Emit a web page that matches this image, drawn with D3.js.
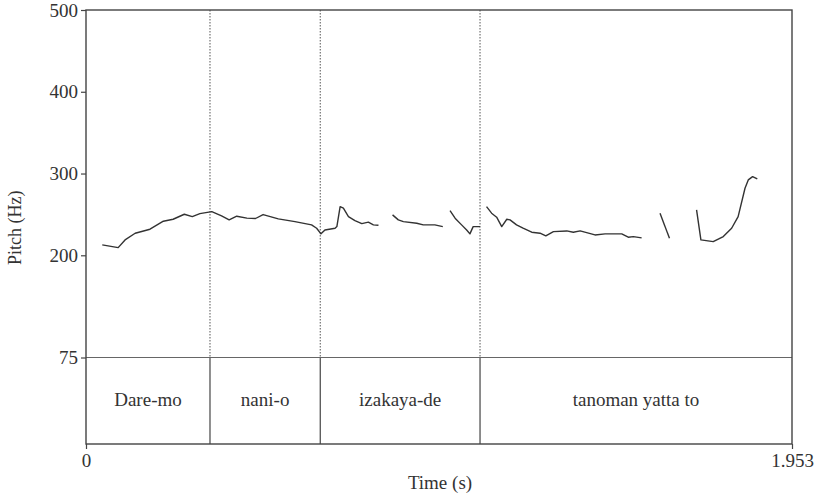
<!DOCTYPE html>
<html>
<head>
<meta charset="utf-8">
<script src="https://cdn.jsdelivr.net/npm/d3@7"></script>
<style>
  body { margin: 0; background: #fff; }
</style>
</head>
<body>
<div id="chart"></div>
<script>
// pitch contour pieces: [time (s), pitch (Hz)]
const pitchSeg1 = [[0.045,212.7],[0.089,209.4],[0.108,218.8],[0.136,227.0],[0.177,231.9],[0.214,241.7],[0.241,244.1],[0.272,250.2],[0.294,247.3],[0.315,251.0],[0.348,253.4],[0.375,248.2],[0.396,243.3],[0.417,247.8],[0.445,245.4],[0.469,245.0],[0.490,249.8],[0.532,244.5],[0.578,241.2],[0.624,237.2],[0.638,233.1],[0.650,226.2],[0.661,231.0],[0.689,233.1],[0.694,235.1],[0.703,259.5],[0.712,257.6],[0.726,247.3],[0.744,242.4],[0.763,238.8],[0.781,240.5],[0.795,237.2],[0.809,236.8]];
const pitchSeg2 = [[0.848,249.4],[0.864,243.3],[0.878,241.2],[0.915,239.2],[0.933,237.2],[0.965,237.2],[0.987,235.1]];
const pitchSeg3 = [[1.007,254.6],[1.021,245.4],[1.039,237.2],[1.053,231.0],[1.062,226.2],[1.071,235.1],[1.090,235.1]];
const pitchSeg4 = [[1.108,259.5],[1.122,251.5],[1.136,246.6],[1.150,235.1],[1.164,244.1],[1.173,243.3],[1.191,237.2],[1.209,233.1],[1.233,228.2],[1.256,227.0],[1.272,223.7],[1.293,229.0],[1.330,229.8],[1.348,228.2],[1.367,229.8],[1.408,224.9],[1.436,226.2],[1.482,226.2],[1.500,222.1],[1.514,222.9],[1.537,221.3]];
const pitchSeg5 = [[1.588,251.5],[1.614,220.9]];
const pitchSeg6 = [[1.689,255.5],[1.701,218.8],[1.735,216.7],[1.763,222.9],[1.786,233.1],[1.804,247.3],[1.823,282.0],[1.832,292.2],[1.844,296.2],[1.857,293.4]];
const segments = [pitchSeg1, pitchSeg2, pitchSeg3, pitchSeg4, pitchSeg5, pitchSeg6];

const boundaries = [0.343, 0.648, 1.090];
const words = ['Dare-mo', 'nani-o', 'izakaya-de', 'tanoman yatta to'];
const pitchTicks = [500, 400, 300, 200, 75];
const timeTicks = [0, 1.953];

const width = 821, height = 496;
const margin = {top: 10, left: 86, right: 29, bottom: 52};
const tierTop = 357.5;
const serif = '"Liberation Serif", "Times New Roman", serif';
const fontSize = 19;

const svg = d3.select('#chart').append('svg')
  .attr('width', width)
  .attr('height', height)
  .attr('font-family', serif);

// scales
const x = d3.scaleLinear()
  .domain([0, 1.953])
  .range([margin.left, width - margin.right]);
const y = d3.scaleLinear()
  .domain([75, 500])
  .range([tierTop, margin.top]);
const bottom = height - margin.bottom;

// boundaries: dotted in pitch area, solid in tier
svg.append('g').selectAll('line').data(boundaries).enter()
  .append('line')
    .attr('x1', d => x(d)).attr('x2', d => x(d))
    .attr('y1', margin.top).attr('y2', tierTop)
    .attr('stroke', '#555').attr('stroke-width', 1)
    .attr('stroke-dasharray', '1.5,1.5');
svg.append('g').selectAll('line').data(boundaries).enter()
  .append('line')
    .attr('x1', d => x(d)).attr('x2', d => x(d))
    .attr('y1', tierTop).attr('y2', bottom)
    .attr('stroke', '#444').attr('stroke-width', 1.2);

// tier separator line at 75 Hz
svg.append('line')
  .attr('x1', x(0)).attr('x2', x(1.953))
  .attr('y1', tierTop).attr('y2', tierTop)
  .attr('stroke', '#666').attr('stroke-width', 1.2);

// frame
svg.append('rect')
  .attr('x', x(0)).attr('y', margin.top)
  .attr('width', x(1.953) - x(0)).attr('height', bottom - margin.top)
  .attr('fill', 'none').attr('stroke', '#444').attr('stroke-width', 1.4);

// word labels
const edges = [0, ...boundaries, 1.953];
svg.append('g').selectAll('text').data(words).enter()
  .append('text')
    .attr('x', (d, i) => (x(edges[i]) + x(edges[i + 1])) / 2)
    .attr('y', (tierTop + bottom) / 2 + 1)
    .attr('text-anchor', 'middle')
    .attr('dominant-baseline', 'middle')
    .attr('font-size', fontSize)
    .attr('fill', '#333')
    .text(d => d);

// y axis
const yAxis = svg.append('g')
  .attr('transform', `translate(${margin.left}, 0)`)
  .call(d3.axisLeft(y).tickValues(pitchTicks).tickSize(5).tickPadding(3));
yAxis.attr('font-family', serif).attr('font-size', fontSize);
yAxis.select('.domain').remove();
yAxis.selectAll('line').attr('stroke', '#444').attr('stroke-width', 1.2);
yAxis.selectAll('text').attr('fill', '#333');

// x axis
const xAxis = svg.append('g')
  .attr('transform', `translate(0, ${bottom})`)
  .call(d3.axisBottom(x).tickValues(timeTicks).tickSize(5).tickPadding(5)
    .tickFormat(d => d === 0 ? '0' : d3.format('.3f')(d)));
xAxis.attr('font-family', serif).attr('font-size', fontSize);
xAxis.select('.domain').remove();
xAxis.selectAll('line').attr('stroke', '#444').attr('stroke-width', 1.2);
xAxis.selectAll('text').attr('fill', '#333');

// axis titles
svg.append('text')
  .attr('transform', `translate(21, ${(margin.top + tierTop) / 2 + 44}) rotate(-90)`)
  .attr('text-anchor', 'middle')
  .attr('font-size', 18)
  .attr('fill', '#333')
  .text('Pitch (Hz)');
svg.append('text')
  .attr('x', (x(0) + x(1.953)) / 2 + 1)
  .attr('y', 489)
  .attr('text-anchor', 'middle')
  .attr('font-size', fontSize)
  .attr('fill', '#333')
  .text('Time (s)');

// pitch contour
const line = d3.line()
  .x(d => x(d[0]))
  .y(d => y(d[1]));
svg.append('g').selectAll('path').data(segments).enter()
  .append('path')
    .attr('d', line)
    .attr('fill', 'none')
    .attr('stroke', '#333')
    .attr('stroke-width', 1.4)
    .attr('stroke-linejoin', 'round');
</script>
</body>
</html>
